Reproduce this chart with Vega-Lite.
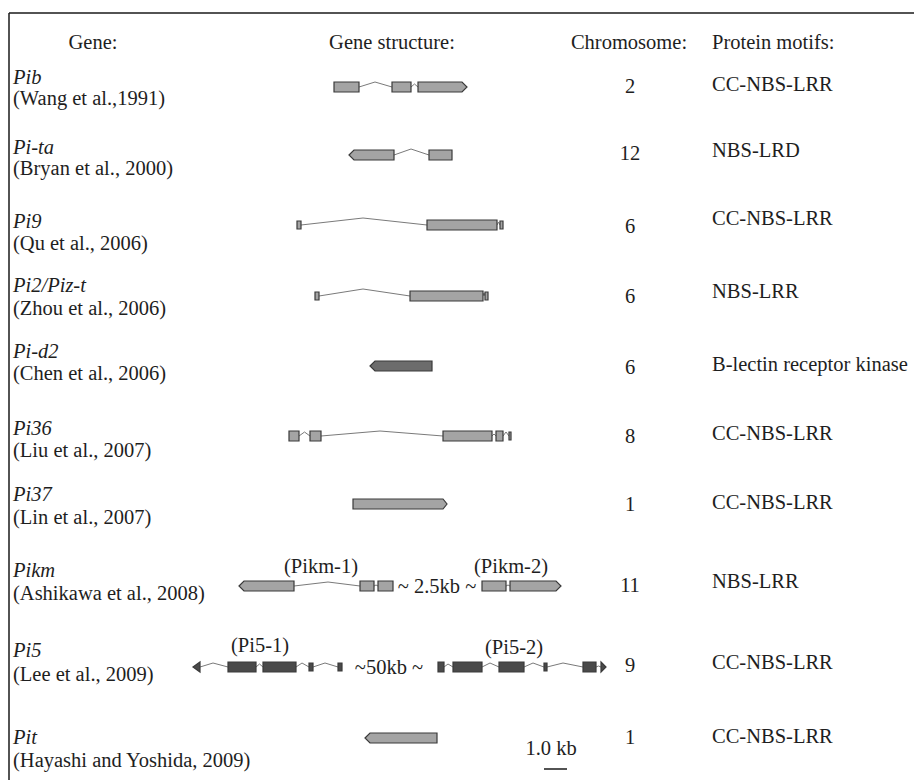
{
  "$schema": "https://vega.github.io/schema/vega-lite/v6.json",
  "width": 914,
  "height": 780,
  "padding": 0,
  "autosize": {"type": "none"},
  "background": "white",
  "config": {"view": {"stroke": null}},
  "datasets": {
    "frame": [
      {"x": 9, "x2": 914, "y": 13, "y2": 13},
      {"x": 9, "x2": 9, "y": 13, "y2": 780}
    ],
    "scalebar": [
      {"x": 544, "x2": 567, "y": 769, "y2": 769}
    ],
    "texts": [
      {"t": "Gene:", "x": 93, "y": 43, "k": "center"},
      {"t": "Gene structure:", "x": 392, "y": 43, "k": "center"},
      {"t": "Chromosome:", "x": 629, "y": 43, "k": "center"},
      {"t": "Protein motifs:", "x": 712, "y": 43, "k": "left"},

      {"t": "Pib", "x": 13, "y": 78, "k": "italic"},
      {"t": "(Wang et al.,1991)", "x": 13, "y": 99, "k": "left"},
      {"t": "2", "x": 630, "y": 87, "k": "center"},
      {"t": "CC-NBS-LRR", "x": 712, "y": 85, "k": "left"},

      {"t": "Pi-ta", "x": 13, "y": 148, "k": "italic"},
      {"t": "(Bryan et al., 2000)", "x": 13, "y": 169, "k": "left"},
      {"t": "12", "x": 630, "y": 154, "k": "center"},
      {"t": "NBS-LRD", "x": 712, "y": 151, "k": "left"},

      {"t": "Pi9", "x": 13, "y": 222, "k": "italic"},
      {"t": "(Qu et al., 2006)", "x": 13, "y": 244, "k": "left"},
      {"t": "6", "x": 630, "y": 227, "k": "center"},
      {"t": "CC-NBS-LRR", "x": 712, "y": 219, "k": "left"},

      {"t": "Pi2/Piz-t", "x": 13, "y": 286, "k": "italic"},
      {"t": "(Zhou et al., 2006)", "x": 13, "y": 309, "k": "left"},
      {"t": "6", "x": 630, "y": 297, "k": "center"},
      {"t": "NBS-LRR", "x": 712, "y": 292, "k": "left"},

      {"t": "Pi-d2", "x": 13, "y": 352, "k": "italic"},
      {"t": "(Chen et al., 2006)", "x": 13, "y": 374, "k": "left"},
      {"t": "6", "x": 630, "y": 368, "k": "center"},
      {"t": "B-lectin receptor kinase", "x": 712, "y": 365, "k": "left"},

      {"t": "Pi36", "x": 13, "y": 429, "k": "italic"},
      {"t": "(Liu et al., 2007)", "x": 13, "y": 451, "k": "left"},
      {"t": "8", "x": 630, "y": 437, "k": "center"},
      {"t": "CC-NBS-LRR", "x": 712, "y": 434, "k": "left"},

      {"t": "Pi37", "x": 13, "y": 495, "k": "italic"},
      {"t": "(Lin et al., 2007)", "x": 13, "y": 518, "k": "left"},
      {"t": "1", "x": 630, "y": 505, "k": "center"},
      {"t": "CC-NBS-LRR", "x": 712, "y": 503, "k": "left"},

      {"t": "Pikm", "x": 13, "y": 571, "k": "italic"},
      {"t": "(Ashikawa et al., 2008)", "x": 13, "y": 594, "k": "left"},
      {"t": "11", "x": 630, "y": 586, "k": "center"},
      {"t": "NBS-LRR", "x": 712, "y": 582, "k": "left"},

      {"t": "Pi5", "x": 13, "y": 651, "k": "italic"},
      {"t": "(Lee et al., 2009)", "x": 13, "y": 675, "k": "left"},
      {"t": "9", "x": 630, "y": 666, "k": "center"},
      {"t": "CC-NBS-LRR", "x": 712, "y": 663, "k": "left"},

      {"t": "Pit", "x": 13, "y": 738, "k": "italic"},
      {"t": "(Hayashi and Yoshida, 2009)", "x": 13, "y": 761, "k": "left"},
      {"t": "1", "x": 630, "y": 738, "k": "center"},
      {"t": "CC-NBS-LRR", "x": 712, "y": 737, "k": "left"},

      {"t": "(Pikm-1)", "x": 321, "y": 567, "k": "center"},
      {"t": "(Pikm-2)", "x": 511, "y": 567, "k": "center"},
      {"t": "~ 2.5kb ~", "x": 437, "y": 587, "k": "center"},
      {"t": "(Pi5-1)", "x": 260, "y": 646, "k": "center"},
      {"t": "(Pi5-2)", "x": 514, "y": 648, "k": "center"},
      {"t": "~50kb ~", "x": 389, "y": 668, "k": "center"},
      {"t": "1.0 kb", "x": 551, "y": 749, "k": "center"}
    ],
    "introns": [
      {"id": "pib-i1", "x": 359, "y": 87}, {"id": "pib-i1", "x": 375, "y": 82}, {"id": "pib-i1", "x": 392, "y": 87},
      {"id": "pib-i2", "x": 411, "y": 87}, {"id": "pib-i2", "x": 414.5, "y": 84}, {"id": "pib-i2", "x": 418, "y": 87},
      {"id": "pita-i1", "x": 394, "y": 155}, {"id": "pita-i1", "x": 411, "y": 149}, {"id": "pita-i1", "x": 429, "y": 155},
      {"id": "pi9-i1", "x": 301, "y": 225}, {"id": "pi9-i1", "x": 363, "y": 218}, {"id": "pi9-i1", "x": 427, "y": 225},
      {"id": "pi9-i2", "x": 497, "y": 225}, {"id": "pi9-i2", "x": 498.5, "y": 222}, {"id": "pi9-i2", "x": 500, "y": 225},
      {"id": "pi2-i1", "x": 319, "y": 296}, {"id": "pi2-i1", "x": 363, "y": 289}, {"id": "pi2-i1", "x": 410, "y": 296},
      {"id": "pi2-i2", "x": 483, "y": 296}, {"id": "pi2-i2", "x": 484, "y": 293}, {"id": "pi2-i2", "x": 485, "y": 296},
      {"id": "pi36-i1", "x": 299, "y": 436}, {"id": "pi36-i1", "x": 304.5, "y": 432}, {"id": "pi36-i1", "x": 310, "y": 436},
      {"id": "pi36-i2", "x": 321, "y": 436}, {"id": "pi36-i2", "x": 380, "y": 431}, {"id": "pi36-i2", "x": 443, "y": 436},
      {"id": "pi36-i3", "x": 492, "y": 436}, {"id": "pi36-i3", "x": 494, "y": 434}, {"id": "pi36-i3", "x": 496, "y": 436},
      {"id": "pi36-i4", "x": 503, "y": 436}, {"id": "pi36-i4", "x": 506, "y": 432}, {"id": "pi36-i4", "x": 509, "y": 436},
      {"id": "pikm-i1", "x": 294, "y": 586}, {"id": "pikm-i1", "x": 328, "y": 582}, {"id": "pikm-i1", "x": 360, "y": 586},
      {"id": "pikm-i2", "x": 374, "y": 586}, {"id": "pikm-i2", "x": 376, "y": 585}, {"id": "pikm-i2", "x": 378, "y": 586},
      {"id": "pikm-i3", "x": 506, "y": 586}, {"id": "pikm-i3", "x": 508, "y": 585}, {"id": "pikm-i3", "x": 510, "y": 586},
      {"id": "pi5-i1", "x": 200, "y": 667}, {"id": "pi5-i1", "x": 213, "y": 663}, {"id": "pi5-i1", "x": 228, "y": 667},
      {"id": "pi5-i2", "x": 256, "y": 667}, {"id": "pi5-i2", "x": 259.5, "y": 664}, {"id": "pi5-i2", "x": 263, "y": 667},
      {"id": "pi5-i3", "x": 296, "y": 667}, {"id": "pi5-i3", "x": 302, "y": 663}, {"id": "pi5-i3", "x": 309, "y": 667},
      {"id": "pi5-i4", "x": 313, "y": 667}, {"id": "pi5-i4", "x": 325, "y": 663}, {"id": "pi5-i4", "x": 338, "y": 667},
      {"id": "pi5-i5", "x": 444, "y": 667}, {"id": "pi5-i5", "x": 448, "y": 664}, {"id": "pi5-i5", "x": 453, "y": 667},
      {"id": "pi5-i6", "x": 482, "y": 667}, {"id": "pi5-i6", "x": 490, "y": 663}, {"id": "pi5-i6", "x": 499, "y": 667},
      {"id": "pi5-i7", "x": 524, "y": 667}, {"id": "pi5-i7", "x": 533, "y": 663}, {"id": "pi5-i7", "x": 544, "y": 667},
      {"id": "pi5-i8", "x": 547, "y": 667}, {"id": "pi5-i8", "x": 563, "y": 663}, {"id": "pi5-i8", "x": 583, "y": 667},
      {"id": "pi5-i9", "x": 596, "y": 667}, {"id": "pi5-i9", "x": 598.5, "y": 666}, {"id": "pi5-i9", "x": 601, "y": 667}
    ],
    "exons": [
      {"id": "pib-e1", "f": "light", "x": 334, "top": 82, "bot": 92}, {"id": "pib-e1", "f": "light", "x": 359, "top": 82, "bot": 92},
      {"id": "pib-e2", "f": "light", "x": 392, "top": 82, "bot": 92}, {"id": "pib-e2", "f": "light", "x": 411, "top": 82, "bot": 92},
      {"id": "pib-e3", "f": "light", "x": 418, "top": 82, "bot": 92}, {"id": "pib-e3", "f": "light", "x": 462, "top": 82, "bot": 92}, {"id": "pib-e3", "f": "light", "x": 467, "top": 87, "bot": 87},

      {"id": "pita-e1", "f": "light", "x": 349, "top": 155, "bot": 155}, {"id": "pita-e1", "f": "light", "x": 354, "top": 150, "bot": 160}, {"id": "pita-e1", "f": "light", "x": 394, "top": 150, "bot": 160},
      {"id": "pita-e2", "f": "light", "x": 429, "top": 150, "bot": 160}, {"id": "pita-e2", "f": "light", "x": 452, "top": 150, "bot": 160},

      {"id": "pi9-e1", "f": "light", "x": 297, "top": 221, "bot": 229}, {"id": "pi9-e1", "f": "light", "x": 301, "top": 221, "bot": 229},
      {"id": "pi9-e2", "f": "light", "x": 427, "top": 220, "bot": 230}, {"id": "pi9-e2", "f": "light", "x": 497, "top": 220, "bot": 230},
      {"id": "pi9-e3", "f": "light", "x": 500, "top": 221, "bot": 229}, {"id": "pi9-e3", "f": "light", "x": 503, "top": 221, "bot": 229},

      {"id": "pi2-e1", "f": "light", "x": 315, "top": 292, "bot": 300}, {"id": "pi2-e1", "f": "light", "x": 319, "top": 292, "bot": 300},
      {"id": "pi2-e2", "f": "light", "x": 410, "top": 291, "bot": 301}, {"id": "pi2-e2", "f": "light", "x": 483, "top": 291, "bot": 301},
      {"id": "pi2-e3", "f": "light", "x": 485, "top": 292, "bot": 300}, {"id": "pi2-e3", "f": "light", "x": 488, "top": 292, "bot": 300},

      {"id": "pid2-e1", "f": "mid", "x": 370, "top": 366, "bot": 366}, {"id": "pid2-e1", "f": "mid", "x": 375, "top": 361, "bot": 371}, {"id": "pid2-e1", "f": "mid", "x": 432, "top": 361, "bot": 371},

      {"id": "pi36-e1", "f": "light", "x": 289, "top": 431, "bot": 441}, {"id": "pi36-e1", "f": "light", "x": 299, "top": 431, "bot": 441},
      {"id": "pi36-e2", "f": "light", "x": 310, "top": 431, "bot": 441}, {"id": "pi36-e2", "f": "light", "x": 321, "top": 431, "bot": 441},
      {"id": "pi36-e3", "f": "light", "x": 443, "top": 431, "bot": 441}, {"id": "pi36-e3", "f": "light", "x": 492, "top": 431, "bot": 441},
      {"id": "pi36-e4", "f": "light", "x": 496, "top": 431, "bot": 441}, {"id": "pi36-e4", "f": "light", "x": 503, "top": 431, "bot": 441},
      {"id": "pi36-e5", "f": "light", "x": 509, "top": 432, "bot": 440}, {"id": "pi36-e5", "f": "light", "x": 511, "top": 432, "bot": 440},

      {"id": "pi37-e1", "f": "light", "x": 353, "top": 499, "bot": 509}, {"id": "pi37-e1", "f": "light", "x": 443, "top": 499, "bot": 509}, {"id": "pi37-e1", "f": "light", "x": 447, "top": 504, "bot": 504},

      {"id": "pikm-e1", "f": "light", "x": 239, "top": 586, "bot": 586}, {"id": "pikm-e1", "f": "light", "x": 244, "top": 581, "bot": 591}, {"id": "pikm-e1", "f": "light", "x": 294, "top": 581, "bot": 591},
      {"id": "pikm-e2", "f": "light", "x": 360, "top": 581, "bot": 591}, {"id": "pikm-e2", "f": "light", "x": 374, "top": 581, "bot": 591},
      {"id": "pikm-e3", "f": "light", "x": 378, "top": 581, "bot": 591}, {"id": "pikm-e3", "f": "light", "x": 393, "top": 581, "bot": 591},
      {"id": "pikm-e4", "f": "light", "x": 482, "top": 581, "bot": 591}, {"id": "pikm-e4", "f": "light", "x": 506, "top": 581, "bot": 591},
      {"id": "pikm-e5", "f": "light", "x": 510, "top": 581, "bot": 591}, {"id": "pikm-e5", "f": "light", "x": 556, "top": 581, "bot": 591}, {"id": "pikm-e5", "f": "light", "x": 561, "top": 586, "bot": 586},

      {"id": "pi5-e1", "f": "dark", "x": 193, "top": 667, "bot": 667}, {"id": "pi5-e1", "f": "dark", "x": 200, "top": 662, "bot": 672},
      {"id": "pi5-e2", "f": "dark", "x": 228, "top": 662, "bot": 672}, {"id": "pi5-e2", "f": "dark", "x": 256, "top": 662, "bot": 672},
      {"id": "pi5-e3", "f": "dark", "x": 263, "top": 662, "bot": 672}, {"id": "pi5-e3", "f": "dark", "x": 296, "top": 662, "bot": 672},
      {"id": "pi5-e4", "f": "dark", "x": 309, "top": 663, "bot": 671}, {"id": "pi5-e4", "f": "dark", "x": 313, "top": 663, "bot": 671},
      {"id": "pi5-e5", "f": "dark", "x": 338, "top": 663, "bot": 671}, {"id": "pi5-e5", "f": "dark", "x": 342, "top": 663, "bot": 671},
      {"id": "pi5-e6", "f": "dark", "x": 438, "top": 662, "bot": 672}, {"id": "pi5-e6", "f": "dark", "x": 444, "top": 662, "bot": 672},
      {"id": "pi5-e7", "f": "dark", "x": 453, "top": 662, "bot": 672}, {"id": "pi5-e7", "f": "dark", "x": 482, "top": 662, "bot": 672},
      {"id": "pi5-e8", "f": "dark", "x": 499, "top": 662, "bot": 672}, {"id": "pi5-e8", "f": "dark", "x": 524, "top": 662, "bot": 672},
      {"id": "pi5-e9", "f": "dark", "x": 544, "top": 663, "bot": 671}, {"id": "pi5-e9", "f": "dark", "x": 547, "top": 663, "bot": 671},
      {"id": "pi5-e10", "f": "dark", "x": 583, "top": 662, "bot": 672}, {"id": "pi5-e10", "f": "dark", "x": 596, "top": 662, "bot": 672},
      {"id": "pi5-e11", "f": "dark", "x": 601, "top": 662, "bot": 672}, {"id": "pi5-e11", "f": "dark", "x": 606, "top": 667, "bot": 667},

      {"id": "pit-e1", "f": "light", "x": 365, "top": 738, "bot": 738}, {"id": "pit-e1", "f": "light", "x": 370, "top": 733, "bot": 743}, {"id": "pit-e1", "f": "light", "x": 437, "top": 733, "bot": 743}
    ]
  },
  "layer": [
    {
      "data": {"name": "frame"},
      "mark": {"type": "rule", "stroke": "#1a1a1a", "strokeWidth": 1.5},
      "encoding": {
        "x": {"field": "x", "type": "quantitative", "scale": {"domain": [0, 914], "nice": false, "zero": false}, "axis": null},
        "x2": {"field": "x2"},
        "y": {"field": "y", "type": "quantitative", "scale": {"domain": [0, 780], "reverse": true, "nice": false, "zero": false}, "axis": null},
        "y2": {"field": "y2"}
      }
    },
    {
      "data": {"name": "scalebar"},
      "mark": {"type": "rule", "stroke": "#1a1a1a", "strokeWidth": 1.5},
      "encoding": {
        "x": {"field": "x", "type": "quantitative"},
        "x2": {"field": "x2"},
        "y": {"field": "y", "type": "quantitative"},
        "y2": {"field": "y2"}
      }
    },
    {
      "data": {"name": "introns"},
      "mark": {"type": "line", "stroke": "#7a7a7a", "strokeWidth": 1, "interpolate": "linear"},
      "encoding": {
        "x": {"field": "x", "type": "quantitative"},
        "y": {"field": "y", "type": "quantitative"},
        "detail": {"field": "id", "type": "nominal"}
      }
    },
    {
      "data": {"name": "exons"},
      "mark": {"type": "area", "orient": "vertical", "stroke": "#3a3a3a", "strokeWidth": 1.2, "interpolate": "linear", "opacity": 1},
      "encoding": {
        "x": {"field": "x", "type": "quantitative"},
        "y": {"field": "top", "type": "quantitative", "stack": null},
        "y2": {"field": "bot"},
        "detail": {"field": "id", "type": "nominal"},
        "color": {"field": "f", "type": "nominal", "scale": {"domain": ["light", "mid", "dark"], "range": ["#a4a4a4", "#6c6c6c", "#4a4a4a"]}, "legend": null}
      }
    },
    {
      "data": {"name": "texts"},
      "transform": [{"filter": "datum.k === 'center'"}],
      "mark": {"type": "text", "align": "center", "baseline": "middle", "font": "Liberation Serif", "fontSize": 20.5, "color": "#1e1e1e"},
      "encoding": {
        "x": {"field": "x", "type": "quantitative"},
        "y": {"field": "y", "type": "quantitative"},
        "text": {"field": "t", "type": "nominal"}
      }
    },
    {
      "data": {"name": "texts"},
      "transform": [{"filter": "datum.k === 'left'"}],
      "mark": {"type": "text", "align": "left", "baseline": "middle", "font": "Liberation Serif", "fontSize": 20.5, "color": "#1e1e1e"},
      "encoding": {
        "x": {"field": "x", "type": "quantitative"},
        "y": {"field": "y", "type": "quantitative"},
        "text": {"field": "t", "type": "nominal"}
      }
    },
    {
      "data": {"name": "texts"},
      "transform": [{"filter": "datum.k === 'italic'"}],
      "mark": {"type": "text", "align": "left", "baseline": "middle", "font": "Liberation Serif", "fontStyle": "italic", "fontSize": 20.5, "color": "#1e1e1e"},
      "encoding": {
        "x": {"field": "x", "type": "quantitative"},
        "y": {"field": "y", "type": "quantitative"},
        "text": {"field": "t", "type": "nominal"}
      }
    }
  ]
}
